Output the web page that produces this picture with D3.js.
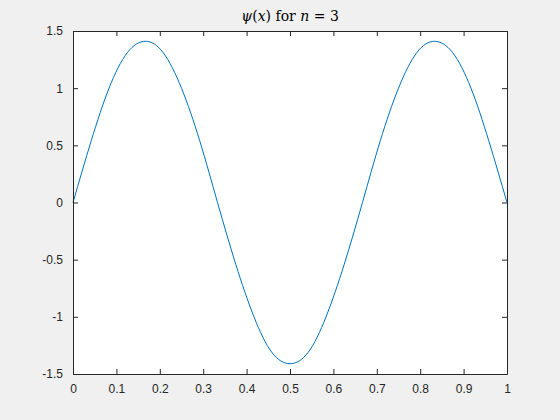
<!DOCTYPE html>
<html lang="en">
<head>
<meta charset="utf-8">
<title>psi(x) for n = 3</title>
<script src="https://cdn.jsdelivr.net/npm/d3@7"></script>
<style>
  html, body { margin: 0; padding: 0; background-color: #f0f0f0; }
</style>
</head>
<body>
<script>

var w = 560;
var h = 420;
var padLeft = 73, padRight = 507, padTop = 31, padBottom = 374;

// values
var xValues = [0, 0.042, 0.083, 0.125, 0.167, 0.208, 0.25, 0.292, 0.333,
               0.375, 0.417, 0.458, 0.5, 0.542, 0.583, 0.625, 0.667,
               0.708, 0.75, 0.792, 0.833, 0.875, 0.917, 0.958, 1];
var psiValues = [0, 0.54, 1.00, 1.31, 1.41, 1.31, 1.00, 0.54, 0,
                 -0.54, -1.00, -1.31, -1.41, -1.31, -1.00, -0.54, 0,
                 0.54, 1.00, 1.31, 1.41, 1.31, 1.00, 0.54, 0];
var xTicks = [0, 0.1, 0.2, 0.3, 0.4, 0.5, 0.6, 0.7, 0.8, 0.9, 1];
var yTicks = [-1.5, -1, -0.5, 0, 0.5, 1, 1.5];

var svg = d3.select("body")
            .append("svg")
            .attr("width", w)
            .attr("height", h)
            .style("display", "block");

svg.append("rect")
   .attr("width", w)
   .attr("height", h)
   .attr("fill", "#f0f0f0");

var xScale = d3.scaleLinear().domain([0, 1]).range([padLeft, padRight]);
var yScale = d3.scaleLinear().domain([-1.5, 1.5]).range([padBottom, padTop]);

// plot area
svg.append("rect")
   .attr("x", padLeft)
   .attr("y", padTop)
   .attr("width", padRight - padLeft)
   .attr("height", padBottom - padTop)
   .attr("fill", "white");

// plain hyphen for negatives, like the original
var fmt = function(d) { return String(d); };

var xAxis = d3.axisBottom(xScale).tickValues(xTicks).tickFormat(fmt)
              .tickSizeInner(-5).tickSizeOuter(0).tickPadding(10);
var yAxis = d3.axisLeft(yScale).tickValues(yTicks).tickFormat(fmt)
              .tickSizeInner(-5).tickSizeOuter(0).tickPadding(10);
var xAxisTop = d3.axisTop(xScale).tickValues(xTicks).tickFormat("")
              .tickSizeInner(-5).tickSizeOuter(0);
var yAxisRight = d3.axisRight(yScale).tickValues(yTicks).tickFormat("")
              .tickSizeInner(-5).tickSizeOuter(0);

// the curve
var line = d3.line()
             .x(function(d, i) { return xScale(xValues[i]); })
             .y(function(d) { return yScale(d); })
             .curve(d3.curveNatural);

svg.append("path")
   .datum(psiValues)
   .attr("d", line)
   .attr("fill", "none")
   .attr("stroke", "#0072bd")
   .attr("stroke-width", 1);

function styleAxis(g) {
  g.attr("font-family", "'Liberation Sans', Arial, sans-serif")
   .attr("font-size", 12);
  g.selectAll("path").attr("stroke", "#262626");
  g.selectAll("line").attr("stroke", "#262626");
  g.selectAll("text").attr("fill", "#262626");
}

svg.append("g")
   .attr("transform", "translate(0," + padBottom + ")")
   .call(xAxis).call(styleAxis);
svg.append("g")
   .attr("transform", "translate(" + padLeft + ",0)")
   .call(yAxis).call(styleAxis);
svg.append("g")
   .attr("transform", "translate(0," + padTop + ")")
   .call(xAxisTop).call(styleAxis);
svg.append("g")
   .attr("transform", "translate(" + padRight + ",0)")
   .call(yAxisRight).call(styleAxis);

// title
var title = svg.append("text")
   .attr("x", (padLeft + padRight) / 2)
   .attr("y", 21)
   .attr("text-anchor", "middle")
   .attr("font-family", "'DejaVu Serif', 'Liberation Serif', serif")
   .attr("font-size", 14)
   .attr("fill", "black");
title.append("tspan").attr("font-style", "italic").text("ψ");
title.append("tspan").text("(");
title.append("tspan").attr("font-style", "italic").text("x");
title.append("tspan").text(") for ");
title.append("tspan").attr("font-style", "italic").text("n");
title.append("tspan").text(" = 3");

</script>
</body>
</html>
